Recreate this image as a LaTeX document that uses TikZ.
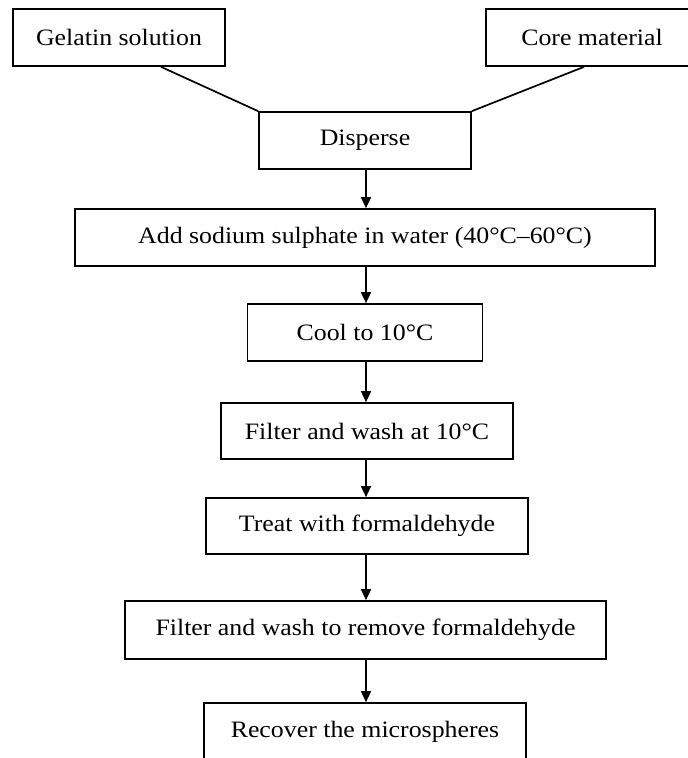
\documentclass[tikz,border=0pt]{standalone}
\usepackage{fontspec}
\setmainfont{Liberation Serif}[FakeStretch=1.1]
\usetikzlibrary{arrows.meta}
\begin{document}
\begin{tikzpicture}[x=1pt,y=-1pt,
  box/.style={draw,line width=1.7pt,rectangle,inner sep=0pt,minimum height=57pt,font=\fontsize{23.5}{28}\selectfont},
  link/.style={line width=1.7pt},
  arr/.style={line width=1.6pt,-{Triangle[length=11pt,width=10pt]}}]
\useasboundingbox (0,0) rectangle (688,758);
\clip (0,0) rectangle (688,758);
\node[box,minimum width=212pt] (gel) at (119,37.5) {Gelatin solution};
\node[box,minimum width=212pt] (core) at (592,37.5) {Core material};
\node[box,minimum width=212pt] (disp) at (365,140.5) {Disperse};
\node[box,minimum width=580pt] (add) at (365,237.5) {Add sodium sulphate in water (40°C–60°C)};
\node[box,minimum width=235pt] (cool) at (365,332.5) {Cool to 10°C};
\node[box,minimum width=292pt,minimum height=56pt] (fw) at (367,431) {Filter and wash at 10°C};
\node[box,minimum width=322pt,minimum height=56pt] (treat) at (367,526) {Treat with formaldehyde};
\node[box,minimum width=481pt,minimum height=58pt] (fwr) at (365.5,630) {Filter and wash to remove formaldehyde};
\node[box,minimum width=322pt] (rec) at (365,731.5) {Recover the microspheres};
\draw[link] ([xshift=42pt]gel.south) -- (disp.north west);
\draw[link] ([xshift=-8pt]core.south) -- (disp.north east);
\coordinate (ax) at (366,0);
\draw[arr] (disp.south -| ax) -- (add.north -| ax);
\draw[arr] (add.south -| ax) -- (cool.north -| ax);
\draw[arr] (cool.south -| ax) -- (fw.north -| ax);
\draw[arr] (fw.south -| ax) -- (treat.north -| ax);
\draw[arr] (treat.south -| ax) -- (fwr.north -| ax);
\draw[arr] (fwr.south -| ax) -- (rec.north -| ax);
\end{tikzpicture}
\end{document}
